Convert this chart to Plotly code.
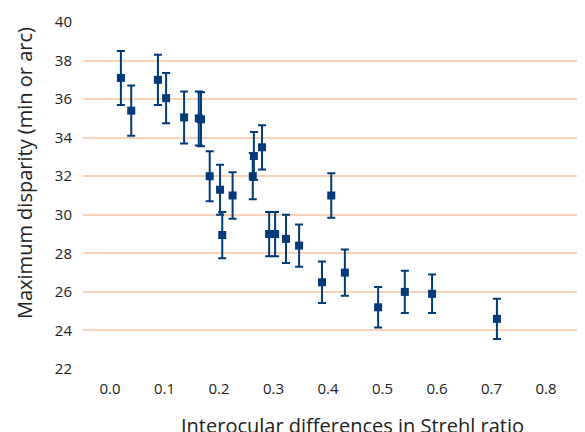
import plotly.graph_objects as go

strehl_diff = [0.020, 0.039, 0.088, 0.103, 0.136, 0.163, 0.167, 0.183, 0.202, 0.206,
               0.225, 0.262, 0.264, 0.279, 0.292, 0.303, 0.323, 0.347, 0.389, 0.406,
               0.431, 0.492, 0.541, 0.591, 0.710]
max_disparity = [37.1, 35.4, 37.0, 36.05, 35.05, 35.0, 34.95, 32.0, 31.3, 28.95,
                 31.0, 32.0, 33.05, 33.5, 29.0, 29.0, 28.75, 28.4, 26.5, 31.0,
                 27.0, 25.2, 26.0, 25.9, 24.6]
err = [1.4, 1.3, 1.3, 1.3, 1.35, 1.4, 1.4, 1.3, 1.3, 1.2,
       1.2, 1.2, 1.25, 1.15, 1.15, 1.15, 1.25, 1.1, 1.08, 1.15,
       1.2, 1.05, 1.1, 1.0, 1.05]
x_ticks = [0.0, 0.1, 0.2, 0.3, 0.4, 0.5, 0.6, 0.7, 0.8]
y_ticks = [22, 24, 26, 28, 30, 32, 34, 36, 38, 40]
x_title = "Interocular differences in Strehl ratio"
y_title = "Maximum disparity (min or arc)"

blue = "#003a78"
fig = go.Figure(go.Scatter(
    x=strehl_diff, y=max_disparity, mode="markers",
    marker=dict(symbol="square", size=8, color=blue),
    error_y=dict(type="data", array=err, visible=True, color=blue, thickness=2, width=4),
    showlegend=False,
))
font = "Open Sans, Noto Sans, sans-serif"
# page body has an 8px margin, so the figure is 8px smaller and margins reduced by 8
fig.update_layout(
    width=577, height=424,
    margin=dict(l=75, r=0, t=14, b=63),
    paper_bgcolor="white", plot_bgcolor="white",
    font=dict(family=font, size=15, color="#222"),
    xaxis=dict(range=[-0.0495, 0.8716], tickvals=x_ticks,
               ticktext=[f"{v:.1f}" for v in x_ticks],
               showgrid=False, zeroline=False, showline=False, ticks="",
               ticklabelstandoff=9, automargin=False),
    yaxis=dict(range=[22, 40], tickvals=y_ticks, showgrid=True,
               gridcolor="#f8d2bb", gridwidth=2, zeroline=False, showline=False,
               ticks="", ticklabelstandoff=10, automargin=False),
    annotations=[
        dict(text=x_title, xref="paper", yref="paper", x=0, y=0,
             xanchor="center", yanchor="middle", xshift=352 - 83, yshift=-56,
             showarrow=False, font=dict(size=20, family=font, color="#222")),
        dict(text=y_title, xref="paper", yref="paper", x=0, y=1,
             xanchor="center", yanchor="middle", xshift=-59, yshift=-151,
             textangle=-90, showarrow=False,
             font=dict(size=20, family=font, color="#222")),
    ],
)
fig.write_html("out.html")
